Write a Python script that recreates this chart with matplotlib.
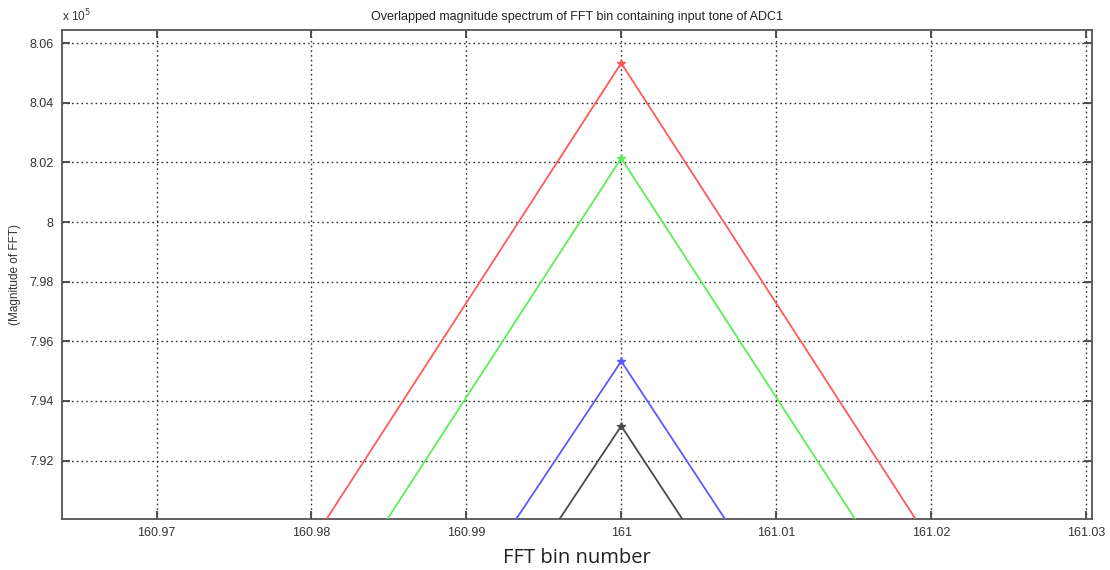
import numpy as np
import matplotlib
matplotlib.use("Agg")
from matplotlib import pyplot as plt
from matplotlib.ticker import FuncFormatter

# fft bins around the input tone
bins = [160, 161, 162]
# magnitude of FFT for each run
red_mag = [1500, 805330, 600]
green_mag = [500, 802140, 500]
blue_mag = [15000, 795330, 5500]
black_mag = [9000, 793160, 1200]
series_colors = ['#ff5a5a', '#5aee5a', '#5a5aff', '#4a4a4a']

xticks = [160.97, 160.98, 160.99, 161.0, 161.01, 161.02, 161.03]
yticks = [7.92e5, 7.94e5, 7.96e5, 7.98e5, 8.00e5, 8.02e5, 8.04e5, 8.06e5]

plt.rcParams['font.family'] = ['Liberation Sans', 'DejaVu Sans']
fig = plt.figure(figsize=(11.1, 5.7), dpi=100)
ax = fig.add_axes([0.0559, 0.0895, 0.928, 0.8578])

allmags = [red_mag, green_mag, blue_mag, black_mag]
for mag, c in zip(allmags, series_colors):
    ax.plot(bins, mag, color=c, lw=1.3, zorder=3)
    ax.plot(bins[1], mag[1], marker='*', color=c, ms=6, zorder=4)

ax.set_xlim(160.9639, 161.0304)
ax.set_ylim(7.9004e5, 8.0644e5)
ax.set_xticks(xticks)
ax.set_yticks(yticks)
ax.xaxis.set_major_formatter(FuncFormatter(lambda v, p: '%g' % round(v, 2)))
ax.yaxis.set_major_formatter(FuncFormatter(lambda v, p: '%g' % round(v / 1e5, 2)))
ax.grid(True, color='#333333', linestyle=(0, (1.2, 2.2)), lw=1.0)
ax.tick_params(direction='in', length=6, width=1.3, color='#444444',
               labelsize=9, labelcolor='#333333', top=True, right=True, pad=6)
for s in ax.spines.values():
    s.set_color('#555555')
    s.set_linewidth(1.3)

ax.set_title('Overlapped magnitude spectrum of FFT bin containing input tone of ADC1',
             fontsize=9, color='#222222', pad=7)
ax.text(0.0, 1.012, r'x 10$^5$', transform=ax.transAxes, fontsize=8.5,
        color='#333333', ha='left', va='bottom')
ax.set_ylabel('(Magnitude of FFT)', fontsize=8.5, color='#333333', labelpad=6)
ax.set_xlabel('FFT bin number', fontsize=14.5, color='#222222',
              family=['Open Sans', 'DejaVu Sans'], labelpad=6)

fig.savefig('out.png', dpi=100)
